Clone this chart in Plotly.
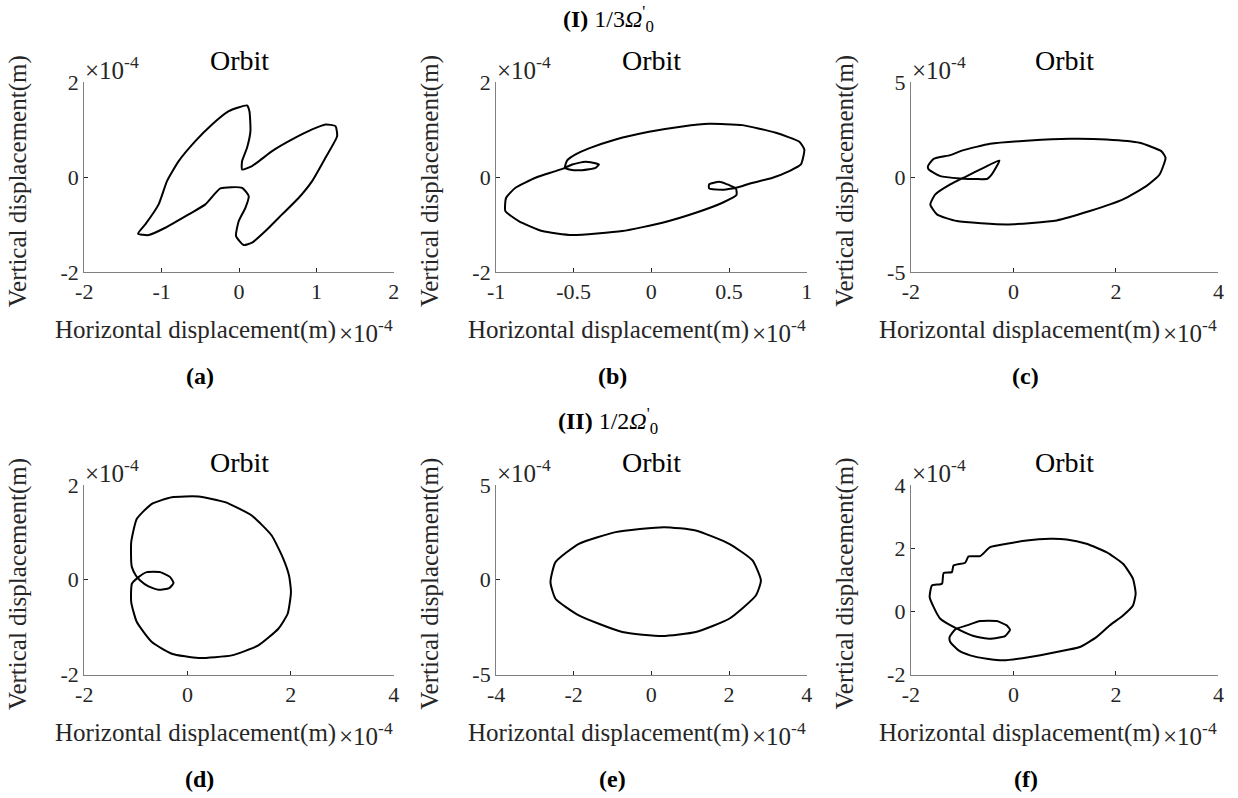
import plotly.graph_objects as go

# ---------------- data (displacements in units of 1e-4 m) ----------------
a_x = [0.103, -0.134, -0.349, -0.565, -0.780, -0.931, -1.039, -1.211, -1.306, -1.168, -0.953, -0.651, -0.435,
       -0.241, 0.039, 0.125, 0.082, -0.004, -0.039, 0.060, 0.168, 0.341, 0.556, 0.772, 0.944, 1.116, 1.267,
       1.246, 1.116, 0.944, 0.685, 0.427, 0.168, 0.039, 0.039, 0.103, 0.147, 0.134, 0.103]
a_y = [1.509, 1.389, 1.109, 0.758, 0.337, -0.084, -0.575, -0.996, -1.193, -1.221, -1.067, -0.786, -0.575,
       -0.239, -0.225, -0.400, -0.646, -0.926, -1.242, -1.432, -1.382, -1.137, -0.786, -0.435, -0.084, 0.407, 0.863,
       1.074, 1.109, 1.004, 0.793, 0.547, 0.232, 0.161, 0.337, 0.618, 0.968, 1.389, 1.509]

b_x = [-0.557, -0.542, -0.488, -0.402, -0.230, -0.015, 0.200, 0.372, 0.587, 0.802, 0.953, 0.985, 0.963, 0.888,
       0.781, 0.630, 0.544, 0.490, 0.437, 0.372, 0.372, 0.458, 0.544, 0.548, 0.458, 0.286, 0.071, -0.187, -0.510,
       -0.703, -0.854, -0.940, -0.935, -0.875, -0.746, -0.617, -0.557, -0.510, -0.424, -0.338, -0.359, -0.445,
       -0.520, -0.557]
b_y = [0.196, 0.351, 0.477, 0.604, 0.793, 0.954, 1.067, 1.123, 1.095, 0.933, 0.744, 0.582, 0.267, 0.126,
       -0.014, -0.140, -0.225, -0.154, -0.098, -0.154, -0.239, -0.267, -0.239, -0.379, -0.540, -0.751, -0.961,
       -1.137, -1.221, -1.137, -0.926, -0.716, -0.435, -0.225, -0.014, 0.126, 0.196, 0.267, 0.323, 0.267, 0.196,
       0.147, 0.154, 0.196]

c_x = [-1.653, -1.426, -1.037, -0.713, -0.506, -0.421, -0.272, -0.583, -0.907, -1.231, -1.523, -1.620, -1.491,
       -1.102, -0.130, 0.843, 1.491, 2.139, 2.592, 2.852, 2.968, 2.884, 2.463, 1.815, 1.102, 0.324, -0.454,
       -0.972, -1.231, -1.555, -1.666, -1.653]
c_y = [0.404, 0.053, -0.070, -0.105, -0.088, 0.140, 0.877, 0.491, 0.053, -0.386, -0.912, -1.439, -1.965,
       -2.316, -2.491, -2.281, -1.789, -1.175, -0.474, 0.140, 1.018, 1.368, 1.807, 1.982, 2.018, 1.930, 1.754,
       1.421, 1.158, 0.965, 0.579, 0.404]

d_x = [-1.090, -1.090, -0.981, -0.690, -0.303, 0.213, 0.729, 1.245, 1.632, 1.858, 1.968, 2.006, 1.942, 1.761,
       1.374, 0.858, 0.213, -0.303, -0.690, -0.981, -1.090, -1.077, -0.948, -0.787, -0.529, -0.335, -0.271,
       -0.355, -0.561, -0.755, -0.916, -1.000, -1.077, -1.090]
d_y = [0.372, 0.793, 1.284, 1.600, 1.740, 1.754, 1.635, 1.354, 0.933, 0.442, 0.091, -0.260, -0.716, -1.032,
       -1.382, -1.593, -1.649, -1.558, -1.312, -0.891, -0.470, -0.084, 0.056, 0.161, 0.161, 0.056, -0.070,
       -0.175, -0.211, -0.140, -0.014, 0.091, 0.267, 0.372]

e_x = [-2.598, -2.469, -1.867, -0.920, 0.327, 1.144, 2.004, 2.606, 2.822, 2.692, 2.004, 1.144, 0.284, -0.748,
       -1.867, -2.469, -2.598]
e_y = [-0.123, 0.930, 1.895, 2.509, 2.772, 2.596, 1.895, 1.018, -0.035, -0.825, -2.053, -2.754, -2.965,
       -2.754, -1.877, -1.000, -0.123]

f_x = [-1.134, -0.907, -0.648, -0.324, -0.130, -0.065, -0.162, -0.454, -0.778, -1.102, -1.426, -1.555, -1.633,
       -1.588, -1.393, -1.361, -1.199, -1.167, -0.940, -0.875, -0.648, -0.454, -0.130, 0.259, 0.713, 1.037, 1.426,
       1.815, 2.139, 2.333, 2.385, 2.333, 2.139, 1.879, 1.620, 1.296, 0.843, 0.324, -0.194, -0.518, -0.843,
       -1.069, -1.231, -1.244, -1.134]
f_y = [-0.568, -0.442, -0.305, -0.305, -0.442, -0.579, -0.779, -0.863, -0.779, -0.547, -0.232, 0.137, 0.453,
       0.821, 0.874, 1.211, 1.242, 1.453, 1.537, 1.737, 1.747, 2.032, 2.137, 2.242, 2.295, 2.274, 2.137, 1.874,
       1.505, 1.032, 0.558, 0.189, -0.126, -0.442, -0.811, -1.126, -1.284, -1.442, -1.547, -1.495, -1.389,
       -1.232, -0.968, -0.811, -0.568]

# tick values / labels
ticks_2 = [-2, -1, 0, 1, 2]
ticks_1 = [-1, -0.5, 0, 0.5, 1]
ticks_4 = [-2, 0, 2, 4]
ticks_44 = [-4, -2, 0, 2, 4]
yt_2 = [-2, 0, 2]
yt_5 = [-5, 0, 5]
yt_4 = [-2, 0, 2, 4]

captions = ["(a)", "(b)", "(c)", "(d)", "(e)", "(f)"]
row_titles = ["<b>(I)</b> 1/3<i>Ω</i><sup>'</sup><sub>0</sub>", "<b>(II)</b> 1/2<i>Ω</i><sup>'</sup><sub>0</sub>"]
panel_title = "Orbit"
x_title = "Horizontal displacement(m)"
y_title = "Vertical displacement(m)"
exp_text = "×10<sup>-4</sup>"


def lbl(v):
    return ("%g" % v).replace("−", "-")


# ---------------- layout geometry ----------------
# target positions are given in screenshot pixels; convert to figure pixels
OFF = 8                      # page body margin
SX, SY, BX, BY = 0.986, 0.970, 3.0, 3.0   # page -> screenshot mapping observed
W, H = 1240, 812
FONT = "Liberation Serif"
TXT = "#262626"

cols = [(86, 395), (497, 807), (911, 1218)]
rows = [(81, 271), (484, 674)]

panels = [
    (a_x, a_y, ticks_2, yt_2, 0, 0),
    (b_x, b_y, ticks_1, yt_2, 0, 1),
    (c_x, c_y, ticks_4, yt_5, 0, 2),
    (d_x, d_y, ticks_4, yt_2, 1, 0),
    (e_x, e_y, ticks_44, yt_5, 1, 1),
    (f_x, f_y, ticks_4, yt_4, 1, 2),
]

fig = go.Figure()
annotations = []


def px(x):
    return ((x - BX) / SX - OFF) / W


def py(y):
    return 1 - ((y - BY) / SY - OFF) / H


for i, (xs, ys, xt, yt, r, c) in enumerate(panels):
    k = "" if i == 0 else str(i + 1)
    fig.add_trace(go.Scatter(x=xs, y=ys, mode="lines", xaxis="x" + k, yaxis="y" + k,
                             line=dict(color="black", width=2, shape="spline", smoothing=0.5),
                             showlegend=False, hoverinfo="skip"))
    x0, x1 = cols[c]
    y0, y1 = rows[r]
    axcommon = dict(showline=True, linecolor="#808080", linewidth=1, ticks="inside", ticklen=4,
                    tickcolor="#262626", tickwidth=1, showgrid=False, zeroline=False,
                    tickfont=dict(family=FONT, size=22, color=TXT), mirror=False)
    fig.update_layout(**{
        "xaxis" + k: dict(domain=[px(x0), px(x1)], range=[xt[0], xt[-1]], tickvals=xt,
                          ticktext=[lbl(v) for v in xt], anchor="y" + k, **axcommon),
        "yaxis" + k: dict(domain=[py(y1), py(y0)], range=[yt[0], yt[-1]], tickvals=yt,
                          ticktext=[lbl(v) for v in yt], anchor="x" + k, **axcommon),
    })
    cx = (x0 + x1) / 2
    # panel title
    annotations.append(dict(x=px(cx), y=py(y0 - 22), xref="paper", yref="paper", text=panel_title,
                            showarrow=False, xanchor="center", yanchor="middle",
                            font=dict(family=FONT, size=28, color="black")))
    # exponent top-left
    annotations.append(dict(x=px(x0 - 1), y=py(y0 - 14), xref="paper", yref="paper", text=exp_text,
                            showarrow=False, xanchor="left", yanchor="middle",
                            font=dict(family=FONT, size=25, color=TXT)))
    # x title
    annotations.append(dict(x=px(x1 - 56), y=py(y1 + 58), xref="paper", yref="paper", text=x_title,
                            showarrow=False, xanchor="right", yanchor="middle",
                            font=dict(family=FONT, size=25, color=TXT)))
    annotations.append(dict(x=px(x1 - 57), y=py(y1 + 59), xref="paper", yref="paper", text=exp_text,
                            showarrow=False, xanchor="left", yanchor="middle",
                            font=dict(family=FONT, size=25, color=TXT)))
    # y title
    annotations.append(dict(x=px(x0 - 66), y=py((y0 + y1) / 2 + 4), xref="paper", yref="paper",
                            text=y_title, textangle=-90, showarrow=False, xanchor="center",
                            yanchor="middle", font=dict(family=FONT, size=25, color=TXT)))
    # caption
    annotations.append(dict(x=px(cx - 39), y=py(y1 + 104), xref="paper", yref="paper",
                            text="<b>" + captions[i] + "</b>", showarrow=False, xanchor="center",
                            yanchor="middle", font=dict(family=FONT, size=24, color="black")))

for r, t in enumerate(row_titles):
    annotations.append(dict(x=px(609), y=py(18 if r == 0 else 420), xref="paper", yref="paper", text=t,
                            showarrow=False, xanchor="center", yanchor="middle",
                            font=dict(family=FONT, size=24, color="black")))

fig.update_layout(width=W, height=H, margin=dict(l=0, r=0, t=0, b=0), autosize=False,
                  paper_bgcolor="white", plot_bgcolor="white", annotations=annotations,
                  font=dict(family=FONT))

fig.write_html("out.html")
